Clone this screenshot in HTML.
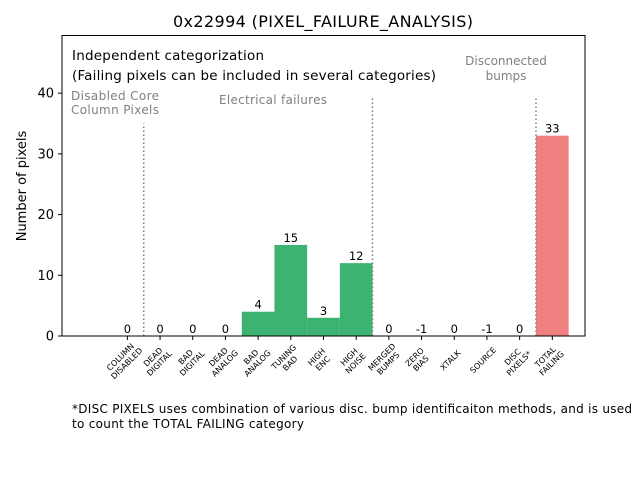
<!DOCTYPE html>
<html><head><meta charset="utf-8"><style>
body{margin:0;background:#fff}
svg{font-family:"DejaVu Sans","Liberation Sans",sans-serif}
</style></head><body>
<svg id="chart" width="640" height="480" viewBox="0 0 640 480" xmlns="http://www.w3.org/2000/svg">
<text x="323" y="27" font-size="16" text-anchor="middle" textLength="300">0x22994 (PIXEL_FAILURE_ANALYSIS)</text>
<g id="plot"></g>
<rect x="62" y="35.5" width="523" height="300.5" fill="none" stroke="#000" stroke-width="1"/>
<text x="72" y="60" font-size="13.5" textLength="192">Independent categorization</text>
<text x="72" y="80" font-size="13.5" textLength="364">(Failing pixels can be included in several categories)</text>
<text x="71" y="100" font-size="12" fill="#808080" textLength="88">Disabled Core</text>
<text x="71" y="114" font-size="12" fill="#808080" textLength="88">Column Pixels</text>
<text x="219" y="104" font-size="12" fill="#808080" textLength="108">Electrical failures</text>
<text x="506" y="65" font-size="12" fill="#808080" text-anchor="middle">Disconnected</text>
<text x="506" y="80" font-size="12" fill="#808080" text-anchor="middle">bumps</text>
<text transform="translate(26,186) rotate(-90)" font-size="13" text-anchor="middle">Number of pixels</text>
<text x="72" y="413" font-size="12" textLength="560">*DISC PIXELS uses combination of various disc. bump identificaiton methods, and is used</text>
<text x="72" y="428" font-size="12" textLength="232">to count the TOTAL FAILING category</text>
</svg>
<script>
const categories=[["COLUMN","DISABLED"],["DEAD","DIGITAL"],["BAD","DIGITAL"],["DEAD","ANALOG"],["BAD","ANALOG"],["TUNING","BAD"],["HIGH","ENC"],["HIGH","NOISE"],["MERGED","BUMPS"],["ZERO","BIAS"],["XTALK"],["SOURCE"],["DISC","PIXELS*"],["TOTAL","FAILING"]];
const values=[0,0,0,0,4,15,3,12,0,-1,0,-1,0,33];
const barColors=["#3cb371","#3cb371","#3cb371","#3cb371","#3cb371","#3cb371","#3cb371","#3cb371","#3cb371","#3cb371","#3cb371","#3cb371","#3cb371","#f08080"];
const yTicks=[0,10,20,30,40];
const separators=[[0.5,35],[7.5,39.5],[12.5,39.5]];
const NS="http://www.w3.org/2000/svg";
const X0=62,X1=585,Y0=336,Y1=35.5,XMIN=-2,XMAX=14,YMIN=0,YMAX=49.5;
function xs(v){return X0+(v-XMIN)/(XMAX-XMIN)*(X1-X0);}
function ys(v){return Y0-(v-YMIN)/(YMAX-YMIN)*(Y0-Y1);}
const g=document.getElementById('plot');
function mk(tag,attrs){const e=document.createElementNS(NS,tag);for(const k in attrs)e.setAttribute(k,attrs[k]);g.appendChild(e);return e;}
values.forEach((v,i)=>{
  if(v>0){
    const r=mk('rect',{x:xs(i-0.5),y:ys(v),width:xs(i+0.5)-xs(i-0.5),height:ys(0)-ys(v),fill:barColors[i]});
    
    
  }
  const t=mk('text',{x:xs(i),y:ys(Math.max(v,0))-3,'font-size':11.5,'text-anchor':'middle'});
  t.textContent=v;
  
  
  const tk=mk('line',{x1:xs(i),x2:xs(i),y1:Y0,y2:Y0+4,stroke:'#000'});
  
  
  const lab=mk('text',{transform:`translate(${xs(i)-4},${Y0+24}) rotate(-45)`,'font-size':8,'text-anchor':'middle'});
  
  
  categories[i].forEach((s,j)=>{const ts=document.createElementNS(NS,'tspan');ts.setAttribute('x',0);ts.setAttribute('y',(j-(categories[i].length-1)/2)*9+3);ts.textContent=s;lab.appendChild(ts);});
});
separators.forEach(s=>{
  const l=mk('line',{x1:xs(s[0]),x2:xs(s[0]),y1:ys(0),y2:ys(s[1]),stroke:'#808080','stroke-width':1.5,'stroke-dasharray':'1.5,2.5'});
  
  
});
yTicks.forEach(v=>{
  const l=mk('line',{x1:X0-4,x2:X0,y1:ys(v),y2:ys(v),stroke:'#000'});
  
  
  const t=mk('text',{x:X0-8,y:ys(v)+4.5,'font-size':13,'text-anchor':'end'});
  t.textContent=v;
  
  
});
</script>
</body></html>
